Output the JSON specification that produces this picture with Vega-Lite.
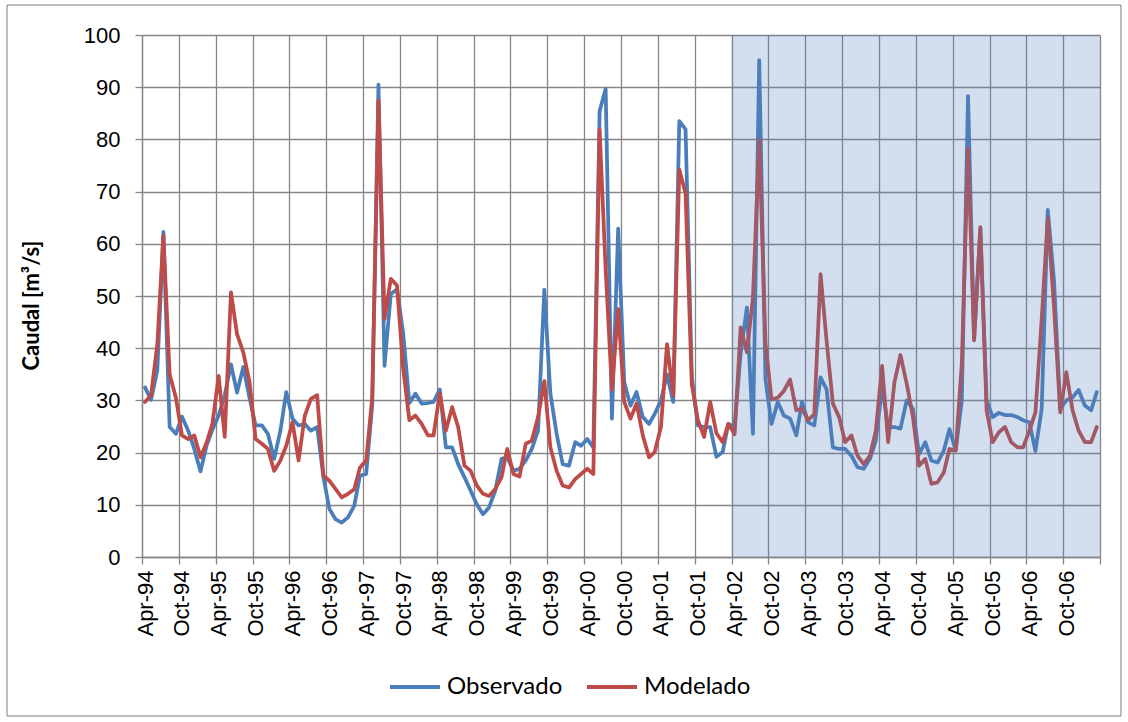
{
  "$schema": "https://vega.github.io/schema/vega-lite/v6.json",
  "width": 958,
  "height": 522,
  "autosize": {"type": "none"},
  "padding": {"left": 142, "top": 35, "right": 28, "bottom": 165},
  "background": "white",
  "config": {"view": {"stroke": null}, "font": "Liberation Sans"},
  "data": {
    "values": [
      {"fecha": "1994-04-16", "obs": 32.5, "mod": 29.7},
      {"fecha": "1994-05-16", "obs": 30.1, "mod": 31.0},
      {"fecha": "1994-06-16", "obs": 35.8, "mod": 40.8},
      {"fecha": "1994-07-16", "obs": 62.3, "mod": 61.6},
      {"fecha": "1994-08-16", "obs": 24.9, "mod": 35.0},
      {"fecha": "1994-09-16", "obs": 23.6, "mod": 30.5},
      {"fecha": "1994-10-16", "obs": 26.9, "mod": 23.3},
      {"fecha": "1994-11-16", "obs": 24.2, "mod": 22.6},
      {"fecha": "1994-12-16", "obs": 20.7, "mod": 23.3},
      {"fecha": "1995-01-16", "obs": 16.4, "mod": 19.1},
      {"fecha": "1995-02-16", "obs": 21.5, "mod": 22.0},
      {"fecha": "1995-03-16", "obs": 24.4, "mod": 25.5},
      {"fecha": "1995-04-16", "obs": 27.1, "mod": 34.7},
      {"fecha": "1995-05-16", "obs": 31.0, "mod": 23.0},
      {"fecha": "1995-06-16", "obs": 36.9, "mod": 50.7},
      {"fecha": "1995-07-16", "obs": 31.5, "mod": 42.7},
      {"fecha": "1995-08-16", "obs": 36.4, "mod": 39.2},
      {"fecha": "1995-09-16", "obs": 30.5, "mod": 33.5},
      {"fecha": "1995-10-16", "obs": 25.2, "mod": 22.6},
      {"fecha": "1995-11-16", "obs": 25.2, "mod": 21.7},
      {"fecha": "1995-12-16", "obs": 23.6, "mod": 20.7},
      {"fecha": "1996-01-16", "obs": 18.8, "mod": 16.5},
      {"fecha": "1996-02-16", "obs": 24.2, "mod": 18.5},
      {"fecha": "1996-03-16", "obs": 31.6, "mod": 21.3},
      {"fecha": "1996-04-16", "obs": 26.5, "mod": 25.8},
      {"fecha": "1996-05-16", "obs": 25.2, "mod": 18.5},
      {"fecha": "1996-06-16", "obs": 25.5, "mod": 27.1},
      {"fecha": "1996-07-16", "obs": 24.2, "mod": 30.3},
      {"fecha": "1996-08-16", "obs": 24.9, "mod": 31.0},
      {"fecha": "1996-09-16", "obs": 15.3, "mod": 15.6},
      {"fecha": "1996-10-16", "obs": 9.2, "mod": 14.6},
      {"fecha": "1996-11-16", "obs": 7.2, "mod": 13.0},
      {"fecha": "1996-12-16", "obs": 6.6, "mod": 11.4},
      {"fecha": "1997-01-16", "obs": 7.6, "mod": 12.1},
      {"fecha": "1997-02-16", "obs": 9.8, "mod": 13.0},
      {"fecha": "1997-03-16", "obs": 15.6, "mod": 17.1},
      {"fecha": "1997-04-16", "obs": 15.9, "mod": 18.5},
      {"fecha": "1997-05-16", "obs": 29.0, "mod": 30.5},
      {"fecha": "1997-06-16", "obs": 90.5, "mod": 87.5},
      {"fecha": "1997-07-16", "obs": 36.6, "mod": 45.6},
      {"fecha": "1997-08-16", "obs": 50.4, "mod": 53.3},
      {"fecha": "1997-09-16", "obs": 51.3, "mod": 52.0},
      {"fecha": "1997-10-16", "obs": 43.0, "mod": 36.3},
      {"fecha": "1997-11-16", "obs": 29.5, "mod": 26.2},
      {"fecha": "1997-12-16", "obs": 31.3, "mod": 27.1},
      {"fecha": "1998-01-16", "obs": 29.4, "mod": 25.5},
      {"fecha": "1998-02-16", "obs": 29.5, "mod": 23.3},
      {"fecha": "1998-03-16", "obs": 29.7, "mod": 23.3},
      {"fecha": "1998-04-16", "obs": 32.1, "mod": 31.4},
      {"fecha": "1998-05-16", "obs": 21.0, "mod": 24.2},
      {"fecha": "1998-06-16", "obs": 21.0, "mod": 28.7},
      {"fecha": "1998-07-16", "obs": 17.8, "mod": 24.9},
      {"fecha": "1998-08-16", "obs": 15.3, "mod": 17.5},
      {"fecha": "1998-09-16", "obs": 12.7, "mod": 16.5},
      {"fecha": "1998-10-16", "obs": 10.1, "mod": 13.7},
      {"fecha": "1998-11-16", "obs": 8.2, "mod": 12.1},
      {"fecha": "1998-12-16", "obs": 9.5, "mod": 11.7},
      {"fecha": "1999-01-16", "obs": 12.7, "mod": 13.0},
      {"fecha": "1999-02-16", "obs": 18.8, "mod": 15.3},
      {"fecha": "1999-03-16", "obs": 19.1, "mod": 20.7},
      {"fecha": "1999-04-16", "obs": 16.5, "mod": 15.9},
      {"fecha": "1999-05-16", "obs": 16.9, "mod": 15.4},
      {"fecha": "1999-06-16", "obs": 18.5, "mod": 21.7},
      {"fecha": "1999-07-16", "obs": 20.7, "mod": 22.3},
      {"fecha": "1999-08-16", "obs": 24.2, "mod": 26.8},
      {"fecha": "1999-09-16", "obs": 51.2, "mod": 33.7},
      {"fecha": "1999-10-16", "obs": 31.3, "mod": 21.0},
      {"fecha": "1999-11-16", "obs": 23.6, "mod": 16.5},
      {"fecha": "1999-12-16", "obs": 17.8, "mod": 13.7},
      {"fecha": "2000-01-16", "obs": 17.5, "mod": 13.3},
      {"fecha": "2000-02-16", "obs": 22.0, "mod": 14.9},
      {"fecha": "2000-03-16", "obs": 21.3, "mod": 15.9},
      {"fecha": "2000-04-16", "obs": 22.6, "mod": 16.9},
      {"fecha": "2000-05-16", "obs": 21.0, "mod": 15.9},
      {"fecha": "2000-06-16", "obs": 85.4, "mod": 81.9},
      {"fecha": "2000-07-16", "obs": 89.7, "mod": 55.0},
      {"fecha": "2000-08-16", "obs": 26.5, "mod": 32.1},
      {"fecha": "2000-09-16", "obs": 62.9, "mod": 47.5},
      {"fecha": "2000-10-16", "obs": 33.5, "mod": 29.7},
      {"fecha": "2000-11-16", "obs": 29.0, "mod": 26.5},
      {"fecha": "2000-12-16", "obs": 31.6, "mod": 29.4},
      {"fecha": "2001-01-16", "obs": 26.8, "mod": 23.3},
      {"fecha": "2001-02-16", "obs": 25.5, "mod": 19.1},
      {"fecha": "2001-03-16", "obs": 27.4, "mod": 20.1},
      {"fecha": "2001-04-16", "obs": 30.0, "mod": 24.9},
      {"fecha": "2001-05-16", "obs": 35.0, "mod": 40.8},
      {"fecha": "2001-06-16", "obs": 29.7, "mod": 31.0},
      {"fecha": "2001-07-16", "obs": 83.5, "mod": 74.2},
      {"fecha": "2001-08-16", "obs": 81.9, "mod": 69.7},
      {"fecha": "2001-09-16", "obs": 34.5, "mod": 33.0},
      {"fecha": "2001-10-16", "obs": 25.2, "mod": 26.2},
      {"fecha": "2001-11-16", "obs": 24.9, "mod": 23.0},
      {"fecha": "2001-12-16", "obs": 24.9, "mod": 29.7},
      {"fecha": "2002-01-16", "obs": 19.2, "mod": 23.7},
      {"fecha": "2002-02-16", "obs": 20.1, "mod": 22.0},
      {"fecha": "2002-03-16", "obs": 25.5, "mod": 25.5},
      {"fecha": "2002-04-16", "obs": 25.0, "mod": 23.5},
      {"fecha": "2002-05-16", "obs": 39.0, "mod": 44.0},
      {"fecha": "2002-06-16", "obs": 47.8, "mod": 39.2},
      {"fecha": "2002-07-16", "obs": 23.6, "mod": 49.7},
      {"fecha": "2002-08-16", "obs": 95.2, "mod": 79.9},
      {"fecha": "2002-09-16", "obs": 34.0, "mod": 41.0},
      {"fecha": "2002-10-16", "obs": 25.5, "mod": 30.2},
      {"fecha": "2002-11-16", "obs": 29.7, "mod": 30.5},
      {"fecha": "2002-12-16", "obs": 27.1, "mod": 31.8},
      {"fecha": "2003-01-16", "obs": 26.5, "mod": 34.0},
      {"fecha": "2003-02-16", "obs": 23.3, "mod": 28.1},
      {"fecha": "2003-03-16", "obs": 29.7, "mod": 28.4},
      {"fecha": "2003-04-16", "obs": 25.8, "mod": 26.2},
      {"fecha": "2003-05-16", "obs": 25.2, "mod": 27.4},
      {"fecha": "2003-06-16", "obs": 34.4, "mod": 54.2},
      {"fecha": "2003-07-16", "obs": 32.1, "mod": 41.4},
      {"fecha": "2003-08-16", "obs": 21.0, "mod": 29.4},
      {"fecha": "2003-09-16", "obs": 20.7, "mod": 26.8},
      {"fecha": "2003-10-16", "obs": 20.7, "mod": 22.0},
      {"fecha": "2003-11-16", "obs": 19.4, "mod": 23.3},
      {"fecha": "2003-12-16", "obs": 17.2, "mod": 19.4},
      {"fecha": "2004-01-16", "obs": 16.9, "mod": 17.8},
      {"fecha": "2004-02-16", "obs": 18.8, "mod": 19.4},
      {"fecha": "2004-03-16", "obs": 22.3, "mod": 24.2},
      {"fecha": "2004-04-16", "obs": 32.6, "mod": 36.6},
      {"fecha": "2004-05-16", "obs": 24.9, "mod": 22.0},
      {"fecha": "2004-06-16", "obs": 24.9, "mod": 33.4},
      {"fecha": "2004-07-16", "obs": 24.6, "mod": 38.7},
      {"fecha": "2004-08-16", "obs": 30.0, "mod": 33.2},
      {"fecha": "2004-09-16", "obs": 28.4, "mod": 26.8},
      {"fecha": "2004-10-16", "obs": 19.7, "mod": 17.5},
      {"fecha": "2004-11-16", "obs": 22.0, "mod": 18.8},
      {"fecha": "2004-12-16", "obs": 18.5, "mod": 14.0},
      {"fecha": "2005-01-16", "obs": 18.1, "mod": 14.3},
      {"fecha": "2005-02-16", "obs": 20.4, "mod": 16.2},
      {"fecha": "2005-03-16", "obs": 24.5, "mod": 20.7},
      {"fecha": "2005-04-16", "obs": 20.4, "mod": 20.4},
      {"fecha": "2005-05-16", "obs": 30.0, "mod": 37.0},
      {"fecha": "2005-06-16", "obs": 88.3, "mod": 78.3},
      {"fecha": "2005-07-16", "obs": 41.8, "mod": 41.5},
      {"fecha": "2005-08-16", "obs": 62.8, "mod": 63.2},
      {"fecha": "2005-09-16", "obs": 30.0, "mod": 28.1},
      {"fecha": "2005-10-16", "obs": 26.8, "mod": 22.0},
      {"fecha": "2005-11-16", "obs": 27.6, "mod": 23.9},
      {"fecha": "2005-12-16", "obs": 27.2, "mod": 24.9},
      {"fecha": "2006-01-16", "obs": 27.2, "mod": 22.0},
      {"fecha": "2006-02-16", "obs": 26.8, "mod": 21.0},
      {"fecha": "2006-03-16", "obs": 26.2, "mod": 21.0},
      {"fecha": "2006-04-16", "obs": 25.8, "mod": 24.2},
      {"fecha": "2006-05-16", "obs": 20.3, "mod": 27.7},
      {"fecha": "2006-06-16", "obs": 28.4, "mod": 45.5},
      {"fecha": "2006-07-16", "obs": 66.5, "mod": 64.9},
      {"fecha": "2006-08-16", "obs": 53.0, "mod": 48.0},
      {"fecha": "2006-09-16", "obs": 28.4, "mod": 27.7},
      {"fecha": "2006-10-16", "obs": 30.0, "mod": 35.4},
      {"fecha": "2006-11-16", "obs": 30.6, "mod": 28.1},
      {"fecha": "2006-12-16", "obs": 32.0, "mod": 24.2},
      {"fecha": "2007-01-16", "obs": 29.0, "mod": 22.0},
      {"fecha": "2007-02-16", "obs": 28.1, "mod": 22.0},
      {"fecha": "2007-03-16", "obs": 31.6, "mod": 24.9}
    ]
  },
  "layer": [
    {
      "mark": {"type": "line", "strokeWidth": 3.75, "strokeJoin": "round", "strokeCap": "round"},
      "encoding": {
        "x": {
          "field": "fecha",
          "type": "temporal",
          "scale": {
            "type": "utc",
            "domain": [
              {"year": 1994, "month": 4, "date": 1, "utc": true},
              {"year": 2007, "month": 4, "date": 1, "utc": true}
            ]
          },
          "axis": {
            "title": null,
            "tickCount": 40,
            "values": [
              {"year": 1994, "month": 4, "date": 1, "utc": true},
              {"year": 1994, "month": 10, "date": 1, "utc": true},
              {"year": 1995, "month": 4, "date": 1, "utc": true},
              {"year": 1995, "month": 10, "date": 1, "utc": true},
              {"year": 1996, "month": 4, "date": 1, "utc": true},
              {"year": 1996, "month": 10, "date": 1, "utc": true},
              {"year": 1997, "month": 4, "date": 1, "utc": true},
              {"year": 1997, "month": 10, "date": 1, "utc": true},
              {"year": 1998, "month": 4, "date": 1, "utc": true},
              {"year": 1998, "month": 10, "date": 1, "utc": true},
              {"year": 1999, "month": 4, "date": 1, "utc": true},
              {"year": 1999, "month": 10, "date": 1, "utc": true},
              {"year": 2000, "month": 4, "date": 1, "utc": true},
              {"year": 2000, "month": 10, "date": 1, "utc": true},
              {"year": 2001, "month": 4, "date": 1, "utc": true},
              {"year": 2001, "month": 10, "date": 1, "utc": true},
              {"year": 2002, "month": 4, "date": 1, "utc": true},
              {"year": 2002, "month": 10, "date": 1, "utc": true},
              {"year": 2003, "month": 4, "date": 1, "utc": true},
              {"year": 2003, "month": 10, "date": 1, "utc": true},
              {"year": 2004, "month": 4, "date": 1, "utc": true},
              {"year": 2004, "month": 10, "date": 1, "utc": true},
              {"year": 2005, "month": 4, "date": 1, "utc": true},
              {"year": 2005, "month": 10, "date": 1, "utc": true},
              {"year": 2006, "month": 4, "date": 1, "utc": true},
              {"year": 2006, "month": 10, "date": 1, "utc": true},
              {"year": 2007, "month": 4, "date": 1, "utc": true}
            ],
            "labelExpr": "utcFormat(datum.value, '%Y') == '2007' ? '' : utcFormat(datum.value, '%b-%y')",
            "labelAngle": 270,
            "labelFont": "Liberation Sans",
            "labelFontSize": 22,
            "labelColor": "#000000",
            "labelPadding": 6,
            "labelOffset": 3,
            "labelOverlap": false,
            "labelFlush": false,
            "grid": true,
            "gridColor": "#868686",
            "gridWidth": 1.3,
            "domainColor": "#868686",
            "domainWidth": 1.3,
            "tickColor": "#868686",
            "tickWidth": 1.3,
            "tickSize": 7
          }
        },
        "y": {
          "field": "obs",
          "type": "quantitative",
          "title": "Caudal [m³/s]",
          "scale": {"domain": [0, 100]},
          "axis": {
            "values": [0, 10, 20, 30, 40, 50, 60, 70, 80, 90, 100],
            "labelFont": "Liberation Sans",
            "labelFontSize": 22,
            "labelColor": "#000000",
            "labelPadding": 15,
            "grid": true,
            "gridColor": "#868686",
            "gridWidth": 1.3,
            "domainColor": "#868686",
            "domainWidth": 1.3,
            "tickColor": "#868686",
            "tickWidth": 1.3,
            "tickSize": 7,
            "titleFont": "Lato",
            "titleFontSize": 22,
            "titleFontWeight": "bold",
            "titleColor": "#000000",
            "titlePadding": 40,
            "titleY": 270
          }
        },
        "color": {
          "datum": "Observado",
          "type": "nominal",
          "scale": {"domain": ["Observado", "Modelado"], "range": ["#4A7EBB", "#BE4B48"]},
          "legend": {
            "orient": "none",
            "legendX": 246,
            "legendY": 625,
            "direction": "horizontal",
            "title": null,
            "symbolType": "stroke",
            "symbolSize": 2500,
            "symbolStrokeWidth": 4,
            "labelFont": "Lato",
            "labelFontSize": 24,
            "labelColor": "#000000",
            "labelOffset": 5,
            "columnPadding": 16
          }
        }
      }
    },
    {
      "mark": {"type": "line", "strokeWidth": 3.75, "strokeJoin": "round", "strokeCap": "round"},
      "encoding": {
        "x": {"field": "fecha", "type": "temporal"},
        "y": {"field": "mod", "type": "quantitative", "title": "Caudal [m³/s]"},
        "color": {"datum": "Modelado", "type": "nominal"}
      }
    },
    {
      "data": {"values": [{}]},
      "mark": {"type": "rect", "fill": "#4F81BD", "opacity": 0.25},
      "encoding": {
        "x": {"datum": {"year": 2002, "month": 4, "date": 1, "utc": true}},
        "x2": {"datum": {"year": 2007, "month": 4, "date": 1, "utc": true}},
        "y": {"datum": 0, "type": "quantitative"},
        "y2": {"datum": 100}
      }
    },
    {
      "data": {"values": [{}]},
      "mark": {"type": "rect", "fillOpacity": 0, "stroke": "#7F7F7F", "strokeWidth": 1, "clip": false},
      "encoding": {
        "x": {"datum": {"year": 1992, "month": 6, "date": 1, "utc": true}},
        "x2": {"datum": {"year": 2007, "month": 7, "date": 14, "utc": true}},
        "y": {"datum": 105.75, "type": "quantitative"},
        "y2": {"datum": -30.46}
      }
    }
  ]
}
